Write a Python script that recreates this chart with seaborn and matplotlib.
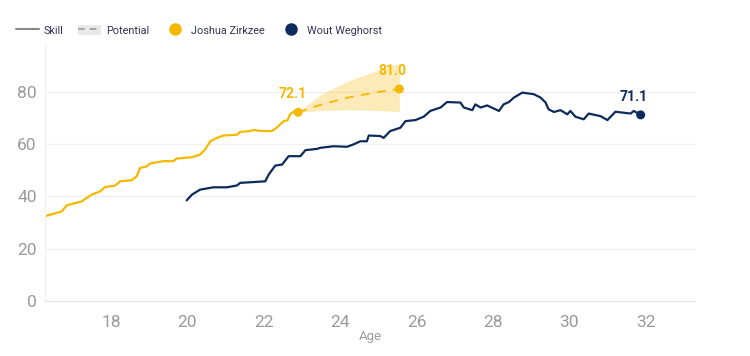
import pandas as pd
import matplotlib.pyplot as plt
import seaborn as sns
from matplotlib import font_manager
from matplotlib.lines import Line2D
from matplotlib.patches import Patch

# Joshua Zirkzee skill by age
zirkzee_age = [16.31, 16.71, 16.84, 17.23, 17.49, 17.71, 17.84, 18.10, 18.24, 18.54,
               18.67, 18.76, 18.94, 19.02, 19.37, 19.63, 19.72, 20.12, 20.33, 20.46,
               20.60, 20.77, 20.95, 21.30, 21.38, 21.64, 21.73, 21.95, 22.21, 22.34,
               22.52, 22.62, 22.69, 22.78, 22.90]
zirkzee_skill = [32.5, 34.2, 36.5, 38.0, 40.6, 41.8, 43.5, 44.0, 45.7, 46.1,
                 47.6, 50.8, 51.4, 52.5, 53.4, 53.4, 54.4, 54.9, 55.9, 57.8,
                 61.0, 62.3, 63.2, 63.5, 64.6, 64.9, 65.3, 64.9, 64.9, 66.2,
                 68.7, 69.0, 71.3, 72.3, 72.1]

# Wout Weghorst skill by age
weghorst_age = [19.98, 20.12, 20.33, 20.68, 21.03, 21.30, 21.38, 21.73, 22.04, 22.13,
                22.30, 22.48, 22.65, 22.96, 23.09, 23.40, 23.48, 23.83, 24.18, 24.35,
                24.53, 24.70, 24.75, 25.05, 25.14, 25.31, 25.58, 25.71, 25.97, 26.19,
                26.36, 26.63, 26.80, 27.15, 27.24, 27.46, 27.54, 27.68, 27.85, 28.16,
                28.28, 28.42, 28.55, 28.77, 29.07, 29.25, 29.38, 29.46, 29.60, 29.77,
                29.95, 30.03, 30.16, 30.38, 30.51, 30.82, 31.00, 31.21, 31.43, 31.61,
                31.69, 31.87]
weghorst_skill = [38.4, 40.6, 42.5, 43.4, 43.4, 44.1, 45.1, 45.4, 45.7, 48.3,
                  51.7, 52.1, 55.3, 55.3, 57.6, 58.1, 58.5, 59.1, 58.9, 59.8,
                  61.0, 61.0, 63.2, 63.0, 62.3, 64.9, 66.2, 68.7, 69.1, 70.4,
                  72.6, 73.9, 76.0, 75.8, 73.9, 72.9, 75.1, 73.9, 74.7, 72.6,
                  75.1, 76.0, 77.7, 79.6, 79.0, 77.7, 75.8, 73.2, 72.2, 72.9,
                  71.3, 72.6, 70.4, 69.4, 71.6, 70.6, 69.1, 72.3, 71.9, 71.6,
                  72.6, 71.1]

# Zirkzee potential projection
pot_age = [22.90, 23.50, 24.20, 24.90, 25.55]
pot_mid = [72.1, 75.0, 77.7, 79.6, 81.0]
pot_low = [72.1, 72.8, 73.0, 72.8, 72.4]
pot_high = [72.1, 79.0, 84.0, 87.8, 90.8]

YELLOW = '#F5B800'
NAVY = '#0C2A5B'
GREY = '#9A9A9A'

sns.set_style('white')
names = {f.name for f in font_manager.fontManager.ttflist}
fam = 'Liberation Sans Narrow' if 'Liberation Sans Narrow' in names else 'Roboto'
plt.rcParams['font.family'] = [fam, 'DejaVu Sans']

df = pd.concat([
    pd.DataFrame({'Age': zirkzee_age, 'Skill': zirkzee_skill, 'Player': 'Joshua Zirkzee'}),
    pd.DataFrame({'Age': weghorst_age, 'Skill': weghorst_skill, 'Player': 'Wout Weghorst'}),
])

fig = plt.figure(figsize=(7.5, 3.56), dpi=100)
ax = fig.add_axes([0.06, 0.155, 0.867, 0.72])

sns.lineplot(data=df, x='Age', y='Skill', hue='Player', sort=False,
             palette={'Joshua Zirkzee': YELLOW, 'Wout Weghorst': NAVY},
             linewidth=1.6, legend=False, ax=ax)

# potential band and dashed projection
ax.fill_between(pot_age, pot_low, pot_high, color=YELLOW, alpha=0.28, lw=0)
ax.plot(pot_age, pot_mid, color=YELLOW, lw=1.3, ls=(0, (5, 4)))

# end point markers
ax.scatter([zirkzee_age[-1], pot_age[-1], weghorst_age[-1]],
           [zirkzee_skill[-1], pot_mid[-1], weghorst_skill[-1]],
           color=[YELLOW, YELLOW, NAVY], s=30, zorder=5)

ax.annotate(f'{zirkzee_skill[-1]:.1f}', (zirkzee_age[-1], zirkzee_skill[-1]),
            xytext=(-4, 10), textcoords='offset points', ha='center',
            color=YELLOW, fontsize=10, fontweight='bold')
ax.annotate(f'{pot_mid[-1]:.1f}', (pot_age[-1], pot_mid[-1]),
            xytext=(-5, 10), textcoords='offset points', ha='center',
            color=YELLOW, fontsize=10, fontweight='bold')
ax.annotate(f'{weghorst_skill[-1]:.1f}', (weghorst_age[-1], weghorst_skill[-1]),
            xytext=(-5, 10), textcoords='offset points', ha='center',
            color=NAVY, fontsize=10, fontweight='bold')

ax.set_xlim(16.27, 33.3)
ax.set_ylim(0, 98)
ax.set_xticks([18, 20, 22, 24, 26, 28, 30, 32])
ax.set_yticks([0, 20, 40, 60, 80])
ax.yaxis.grid(True, color='#F0F0F0', lw=0.9)
ax.xaxis.grid(False)
ax.tick_params(axis='x', colors='#E6E6E6', labelcolor=GREY, labelsize=12.5,
               length=8, width=0.8, pad=2, direction='out')
ax.tick_params(axis='y', colors=GREY, labelsize=12.5, length=0, pad=6)
ax.set_xlabel('Age', color=GREY, fontsize=9.5, labelpad=0)
ax.set_ylabel('')
for side in ['top', 'right']:
    ax.spines[side].set_visible(False)
ax.spines['left'].set_color('#F0F0F0')
ax.spines['bottom'].set_color('#E6E6E6')
ax.spines['left'].set_linewidth(0.9)
ax.spines['bottom'].set_linewidth(0.9)

handles = [
    Line2D([], [], color='#888888', lw=1.5),
    (Patch(facecolor='#E8E8E8', edgecolor='none'),
     Line2D([], [], color='#999999', lw=1.2, ls=(0, (4, 3)))),
    Line2D([], [], marker='o', color='none', markerfacecolor=YELLOW,
           markeredgecolor=YELLOW, markersize=8),
    Line2D([], [], marker='o', color='none', markerfacecolor=NAVY,
           markeredgecolor=NAVY, markersize=8),
]
labels = ['Skill', 'Potential', 'Joshua Zirkzee', 'Wout Weghorst']
fig.legend(handles, labels, loc='upper left', bbox_to_anchor=(0.008, 0.957),
           ncol=4, frameon=False, fontsize=7.8, handlelength=2.1,
           handleheight=1.1, columnspacing=1.3, handletextpad=0.5,
           labelcolor='#333355')

fig.savefig('out.png', dpi=100)
